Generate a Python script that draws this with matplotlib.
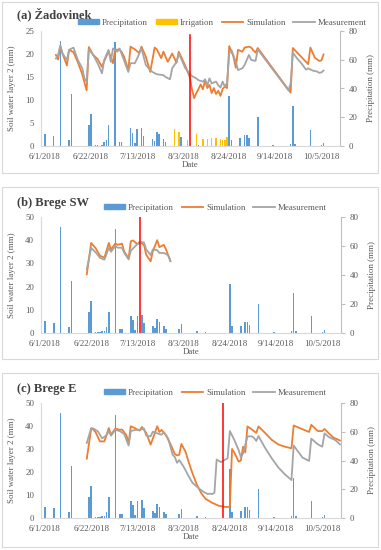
import matplotlib.pyplot as plt
from matplotlib.patches import Rectangle
from matplotlib.lines import Line2D
import numpy as np

plt.rcParams['font.family'] = ['Liberation Serif', 'DejaVu Serif']

# dates as days after 6/1/2018
tick_days = [0, 21, 42, 63, 84, 105, 126]
tick_labels = ['6/1/2018', '6/22/2018', '7/13/2018', '8/3/2018', '8/24/2018', '9/14/2018', '10/5/2018']

# (a) Zadovinek
prec_a_days = [0, 4, 7, 11, 12, 20, 21, 23, 24, 26, 27, 28, 29, 32, 34, 35, 39, 40, 41, 42, 44, 45,
               49, 50, 51, 52, 54, 55, 62, 70, 84, 85, 89, 91, 92, 93, 97, 104, 112, 113, 114, 121, 126, 127]
prec_a = [8, 7, 73, 4.5, 36, 14.5, 22, 0.5, 0.5, 1, 2.5, 4, 14.7, 72, 3, 3, 12.5, 9, 2, 11.8, 12.8, 7.2,
          5, 3.5, 10, 8, 4.8, 2.6, 6, 1, 34.5, 4, 5.5, 7.5, 7.5, 5.5, 20, 0.7, 1.5, 27.5, 1.2, 11, 0.8, 2]
irr_a_days = [59, 61, 65, 69, 72, 74, 76, 78, 80, 81, 82, 83]
irr_a = [12, 10, 4.4, 8.3, 4.6, 5.2, 5.6, 5.6, 4.6, 4.2, 4.5, 6.3]
sim_a_days = [5, 6, 7, 8, 10, 11, 13, 15, 17, 19, 20, 22, 24, 26, 27, 29, 31, 32, 34, 35, 36, 38, 39, 41,
              43, 44, 46, 48, 50, 51, 53, 54, 56, 58, 60, 61, 64, 66, 67, 68, 69, 70, 71, 72, 73, 74, 75,
              76, 77, 78, 79, 80, 81, 82, 83, 84, 85, 86, 87, 88, 90, 91, 93, 94, 95, 96, 97, 112, 113,
              120, 121, 123, 125, 126, 127]
sim_a = [19.8, 18.8, 21.6, 20.1, 17.5, 20.9, 20.4, 18.2, 15.6, 12.1, 21.5, 19.8, 18.9, 17.2, 18.4, 20.6,
         18.0, 20.9, 21.0, 20.4, 19.5, 16.5, 21.6, 21.0, 20.2, 21.6, 19.4, 16.1, 21.4, 21.0, 19.1, 20.5,
         18.3, 20.1, 18.1, 20.5, 17.4, 15.0, 12.4, 10.4, 11.5, 12.4, 13.4, 12.3, 14.3, 12.6, 13.3, 11.5,
         12.6, 11.3, 12.0, 10.9, 12.4, 12.9, 12.6, 21.7, 20.6, 19.3, 17.0, 20.9, 20.5, 21.4, 21.6, 21.4,
         20.8, 20.3, 21.3, 11.6, 21.3, 17.8, 21.4, 19.2, 18.5, 18.6, 19.9]
meas_a_days = [5, 6, 7, 8, 10, 11, 13, 15, 17, 18, 19, 20, 22, 24, 26, 27, 29, 30, 31, 33, 34, 36, 38,
               39, 41, 42, 44, 46, 48, 49, 51, 54, 55, 57, 58, 60, 61, 63, 64, 66, 67, 69, 70, 72, 73,
               74, 75, 76, 78, 79, 80, 81, 82, 83, 84, 85, 87, 88, 90, 91, 93, 94, 96, 97, 111, 112,
               113, 115, 117, 119, 120, 122, 124, 125, 126, 127]
meas_a = [19.0, 19.8, 21.9, 20.1, 18.7, 20.9, 21.4, 18.7, 16.9, 14.7, 14.0, 21.0, 19.8, 18.0, 15.8, 18.7,
          20.9, 18.3, 21.2, 20.5, 21.2, 18.7, 16.1, 18.0, 18.0, 19.0, 21.2, 17.6, 16.5, 16.1, 15.6, 15.4,
          15.0, 14.5, 16.9, 18.3, 20.1, 18.0, 16.9, 15.8, 15.2, 14.7, 14.3, 14.0, 14.5, 13.2, 14.7, 13.6,
          14.0, 13.2, 12.7, 14.0, 12.9, 13.7, 20.1, 20.9, 18.3, 16.5, 16.9, 17.6, 19.8, 18.7, 18.5, 21.0,
          12.1, 13.6, 20.3, 19.0, 17.9, 16.6, 16.9, 16.4, 16.2, 15.9, 16.0, 16.4]

# Brege precipitation (same for SW and E)
prec_b_days = [0, 4, 7, 11, 12, 20, 21, 23, 24, 25, 26, 27, 28, 29, 32, 34, 35, 39, 40, 41, 42, 44, 45,
               49, 50, 51, 52, 54, 55, 61, 62, 69, 73, 84, 85, 89, 91, 92, 93, 97, 104, 112, 113, 114,
               121, 126, 127]
prec_b = [8, 7, 73, 4, 36, 14.5, 22, 0.5, 0.5, 0.5, 1.5, 1.5, 4, 14.5, 72, 3, 3, 12, 9, 2, 11.5, 12.5, 7,
          5, 3.5, 10, 7.5, 4.5, 2.5, 3, 6, 1.2, 0.7, 34, 4.5, 5, 7.5, 7.5, 5.5, 20, 0.7, 1.5, 27.5, 1.5,
          11.5, 1, 2]

# (b) Brege SW
sim_b_days = [19, 21, 23, 25, 27, 29, 30, 32, 33, 35, 36, 38, 39, 40, 42, 43, 45, 46, 48, 49, 51, 52,
              54, 55, 57]
sim_b = [25.3, 38.8, 36.6, 33.3, 32.5, 38.8, 36.0, 38.6, 38.0, 38.5, 35.1, 32.2, 39.5, 39.9, 38.3, 39.3,
         38.0, 33.7, 30.9, 35.2, 40.0, 37.0, 38.0, 36.0, 31.0]
meas_b_days = [19, 21, 23, 25, 27, 29, 30, 32, 33, 35, 36, 38, 39, 41, 42, 44, 45, 46, 48, 49, 51, 52,
               54, 56, 57]
meas_b = [27.5, 36.7, 34.8, 32.4, 31.6, 36.7, 35.0, 37.5, 36.8, 36.7, 34.6, 31.7, 35.5, 37.4, 38.3, 39.2,
          39.0, 36.0, 33.6, 36.0, 35.7, 34.5, 34.5, 33.5, 31.0]

# (c) Brege E
sim_c_days = [19, 21, 22, 23, 25, 27, 29, 30, 32, 34, 35, 37, 38, 39, 41, 43, 44, 46, 48, 49, 51, 52,
              53, 55, 57, 59, 60, 61, 62, 64, 65, 67, 69, 71, 73, 76, 79, 82, 84, 85, 86, 87, 88, 89,
              90, 91, 92, 94, 96, 97, 100, 103, 106, 109, 112, 113, 117, 120, 121, 124, 126, 127, 129,
              131, 134]
sim_c = [25.8, 38.8, 38.5, 37.3, 33.3, 33.3, 39.1, 36.2, 38.9, 38.3, 38.5, 36.0, 32.5, 39.9, 39.0, 38.0,
         39.6, 37.0, 31.9, 34.5, 39.9, 37.4, 38.3, 36.0, 32.2, 27.8, 27.2, 27.5, 32.2, 28.5, 25.2, 19.5,
         14.5, 10.8, 8.3, 6.6, 5.3, 4.8, 4.8, 30.0, 28.5, 26.5, 24.5, 25.0, 31.0, 28.5, 39.8, 38.5, 37.0,
         39.8, 37.0, 34.0, 32.0, 31.0, 30.3, 40.2, 38.6, 37.4, 40.5, 37.8, 37.8, 38.7, 36.8, 35.0, 33.7]
meas_c_days = [19, 21, 22, 24, 26, 28, 29, 30, 32, 34, 36, 38, 39, 41, 43, 45, 46, 48, 49, 51, 53, 54,
               56, 57, 58, 59, 60, 61, 63, 65, 67, 70, 72, 74, 75, 76, 77, 78, 80, 83, 84, 86, 88, 89,
               90, 92, 94, 95, 96, 97, 100, 103, 106, 109, 112, 113, 117, 120, 121, 124, 126, 127, 129,
               132, 134]
meas_c = [32.6, 39.1, 38.9, 37.7, 34.6, 36.0, 37.8, 35.8, 38.3, 37.8, 36.5, 31.5, 37.8, 38.3, 38.3, 38.9,
          35.8, 35.5, 37.5, 36.8, 36.2, 37.3, 34.5, 31.0, 27.5, 26.5, 24.0, 25.2, 22.3, 18.7, 15.3, 12.8,
          11.4, 10.4, 10.6, 10.4, 11.0, 25.4, 24.3, 26.0, 37.8, 34.0, 29.5, 26.5, 28.0, 35.5, 35.5, 34.8,
          33.5, 35.6, 30.5, 26.0, 22.0, 19.0, 16.5, 31.5, 26.3, 24.8, 34.5, 32.0, 31.0, 36.8, 35.2, 33.8,
          32.0]

cut_a, cut_b, cut_c = 66, 43, 81

BLUE = '#5B9BD5'
ORANGE = '#ED7D31'
GRAY = '#A5A5A5'
YELLOW = '#FFC000'
TXT = '#595959'
FS = 6.4

W, H = 381, 550
fig = plt.figure(figsize=(W / 100, H / 100), dpi=100)


def px(x0, y0, x1, y1):
    return [x0 / W, 1 - y1 / H, (x1 - x0) / W, (y1 - y0) / H]


panels = [
    dict(title='(a) Žadovinek', box=(2, 2, 378, 173), ax=(41, 31, 340, 146), ymax=25, yt=5,
         prec_days=prec_a_days, prec=prec_a, irr=True, sim_d=sim_a_days, sim=sim_a,
         meas_d=meas_a_days, meas=meas_a, cut=cut_a, cut_top=0.965, leg=(80, 23), title_y=14),
    dict(title='(b) Brege SW', box=(2, 187, 378, 359), ax=(41, 217, 341, 333), ymax=50, yt=10,
         prec_days=prec_b_days, prec=prec_b, irr=False, sim_d=sim_b_days, sim=sim_b,
         meas_d=meas_b_days, meas=meas_b, cut=cut_b, cut_top=1.0, leg=(106, 208), title_y=203),
    dict(title='(c) Brege E', box=(2, 373, 378, 547), ax=(41, 403, 341, 518), ymax=50, yt=10,
         prec_days=prec_b_days, prec=prec_b, irr=False, sim_d=sim_c_days, sim=sim_c,
         meas_d=meas_c_days, meas=meas_c, cut=cut_c, cut_top=1.0, leg=(106, 393), title_y=389),
]

for p in panels:
    bx = p['box']
    fig.patches.append(Rectangle((bx[0] / W, 1 - bx[3] / H), (bx[2] - bx[0]) / W, (bx[3] - bx[1]) / H,
                                 transform=fig.transFigure, fill=False, edgecolor='#D9D9D9', lw=0.8))
    ax = fig.add_axes(px(*p['ax']))
    ax2 = ax.twinx()
    ax.set_zorder(ax2.get_zorder() + 1)
    ax.patch.set_visible(False)

    ax2.bar(p['prec_days'], p['prec'], width=0.7, color=BLUE, label='Precipitation')
    handles = [Rectangle((0, 0), 1, 1, color=BLUE)]
    labels = ['Precipitation']
    if p['irr']:
        ax2.bar(irr_a_days, irr_a, width=0.7, color=YELLOW, label='Irrigation')
        handles.append(Rectangle((0, 0), 1, 1, color=YELLOW))
        labels.append('Irrigation')
    ax.plot(p['sim_d'], p['sim'], color=ORANGE, lw=1.3)
    ax.plot(p['meas_d'], p['meas'], color=GRAY, lw=1.3)
    ax.axvline(p['cut'], ymax=p['cut_top'], color='red', lw=1.1)
    handles += [Line2D([], [], color=ORANGE, lw=1.3), Line2D([], [], color=GRAY, lw=1.3)]
    labels += ['Simulation', 'Measurement']

    ax.set_xlim(-1.8, 134.5)
    ax.set_ylim(0, p['ymax'])
    ax.set_yticks(np.arange(0, p['ymax'] + 1, p['yt']))
    ax2.set_ylim(0, 80)
    ax2.set_yticks([0, 20, 40, 60, 80])
    ax.set_xticks(tick_days)
    ax.set_xticklabels(tick_labels)

    for a in (ax, ax2):
        for s in a.spines.values():
            s.set_visible(False)
        a.tick_params(colors=TXT, labelsize=FS, length=0, pad=5)
    ax.tick_params(axis='x', pad=5)
    ax2.spines['right'].set_visible(True)
    ax2.spines['right'].set_color('#BFBFBF')
    ax2.tick_params(axis='y', length=3, color='#BFBFBF', pad=3)
    ax.spines['left'].set_visible(True)
    ax.spines['left'].set_color('#D9D9D9')
    ax.spines['bottom'].set_visible(True)
    ax.spines['bottom'].set_color('#D9D9D9')

    ax.set_ylabel('Soil water layer 2 (mm)', color=TXT, fontsize=FS)
    ax.yaxis.set_label_coords(-25 / 299, 0.5)
    ax2.set_ylabel('Precipitation (mm)', color=TXT, fontsize=FS)
    ax2.yaxis.set_label_coords(1 + 27 / 299, 0.5)
    ax.set_xlabel('Date', color=TXT, fontsize=FS, labelpad=0)

    fig.text(17 / W, 1 - p['title_y'] / H, p['title'], fontsize=9, fontweight='bold',
             color='#404040', va='center', ha='left')
    fig.legend(handles, labels, loc='center left', bbox_to_anchor=(p['leg'][0] / W - 0.005, 1 - p['leg'][1] / H),
               ncol=len(labels), frameon=False, fontsize=FS, handlelength=2.4, handleheight=0.45,
               handletextpad=0.3, columnspacing=0.9, borderpad=0, borderaxespad=0, labelcolor=TXT)

fig.savefig('out.png', dpi=100)
